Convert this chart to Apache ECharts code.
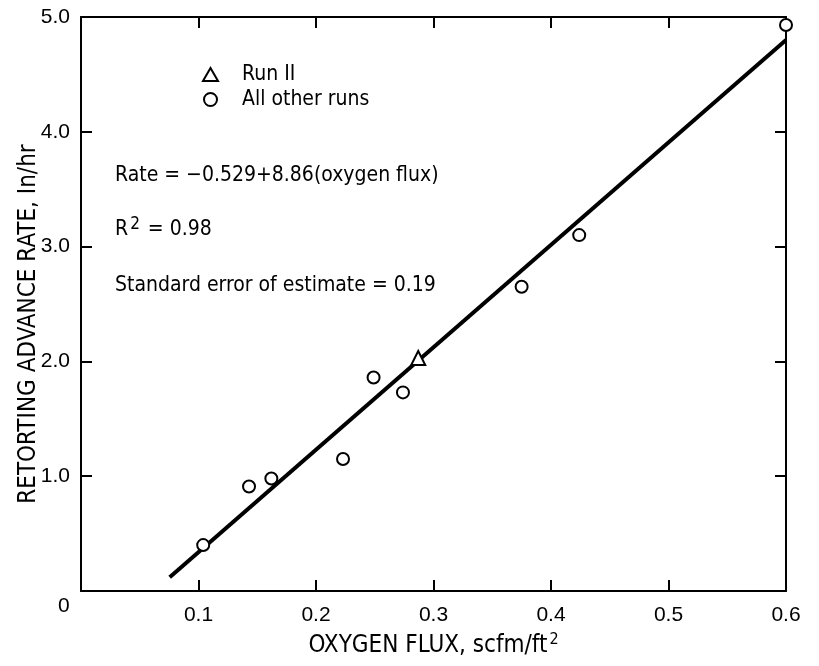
<!DOCTYPE html>
<html>
<head>
<meta charset="utf-8">
<script src="https://cdn.jsdelivr.net/npm/echarts@6/dist/echarts.min.js"></script>
<style>
  html, body { margin: 0; padding: 0; background: #fff; }
  #chart { width: 819px; height: 666px; }
</style>
</head>
<body>
<div id="chart"></div>
<script>
// values
var runElevenPoint = [[0.287, 2.03]];
var otherRunPoints = [
  [0.104, 0.40], [0.143, 0.91], [0.162, 0.98], [0.223, 1.15],
  [0.249, 1.86], [0.274, 1.73], [0.375, 2.65], [0.424, 3.10],
  [0.600, 4.93]
];
// ends of the drawn fit line
var fitLine = [[0.0755, 0.12], [0.6, 4.80]];
var xTicks = [0.1, 0.2, 0.3, 0.4, 0.5, 0.6];
var yTicks = ['1.0', '2.0', '3.0', '4.0', '5.0'];

var FONT = 'Liberation Sans';
var NARROW = "'Liberation Sans Narrow', 'DejaVu Sans Condensed', sans-serif";

var chart = echarts.init(document.getElementById('chart'));

var tickStyle = {show: true, inside: true, length: 11, lineStyle: {color: '#000', width: 2}};
var lineStyle = {show: true, onZero: false, lineStyle: {color: '#000', width: 2}};

chart.setOption({
  animation: false,
  backgroundColor: '#fff',
  grid: {left: 81, right: 33, top: 17, bottom: 75, outerBoundsMode: 'none', containLabel: false},
  legend: {
    orient: 'vertical',
    left: 197,
    top: 59,
    itemGap: 4,
    itemWidth: 15,
    itemHeight: 13,
    textStyle: {fontFamily: NARROW, fontSize: 21, color: '#000', padding: [0, 0, 0, 19]},
    data: ['Run II', 'All other runs']
  },
  xAxis: [{
    type: 'value',
    min: 0, max: 0.6, interval: 0.1,
    name: 'OXYGEN FLUX, scfm/ft{sup|2}',
    nameLocation: 'middle',
    nameGap: 41,
    nameTextStyle: {
      fontFamily: NARROW, fontSize: 24, color: '#000',
      rich: {sup: {fontFamily: NARROW, fontSize: 16, verticalAlign: 'top', padding: [0, 0, 12, 2], color: '#000'}}
    },
    axisLine: lineStyle,
    axisTick: tickStyle,
    splitLine: {show: false},
    axisLabel: {
      fontFamily: FONT, fontSize: 21, color: '#000', margin: 14,
      formatter: function(v) {
        for (var i = 0; i < xTicks.length; i++) {
          if (Math.abs(xTicks[i] - v) < 1e-6) return xTicks[i].toFixed(1);
        }
        return '';
      }
    }
  }, {
    type: 'value',
    position: 'top',
    min: 0, max: 0.6, interval: 0.1,
    axisLine: lineStyle,
    axisTick: tickStyle,
    axisLabel: {show: false},
    splitLine: {show: false}
  }],
  yAxis: [{
    type: 'value',
    min: 0, max: 5, interval: 1,
    name: 'RETORTING ADVANCE RATE, In/hr',
    nameLocation: 'middle',
    nameGap: 40,
    nameMoveOverlap: false,
    nameTextStyle: {fontFamily: NARROW, fontSize: 24, color: '#000', padding: [0, 40, 0, 0]},
    axisLine: lineStyle,
    axisTick: tickStyle,
    splitLine: {show: false},
    axisLabel: {
      fontFamily: FONT, fontSize: 21, color: '#000', margin: 11,
      formatter: function(v) {
        return v === 0 ? '' : yTicks[Math.round(v) - 1];
      }
    }
  }, {
    type: 'value',
    position: 'right',
    min: 0, max: 5, interval: 1,
    axisLine: lineStyle,
    axisTick: tickStyle,
    axisLabel: {show: false},
    splitLine: {show: false}
  }],
  graphic: [
    {type: 'text', left: 58, top: 596,
      style: {text: '0', font: '21px ' + FONT, fill: '#000'}},
    {type: 'text', left: 115, top: 165,
      style: {text: 'Rate = \u22120.529+8.86(oxygen flux)', font: '21px ' + NARROW, fill: '#000'}},
    {type: 'text', left: 115, top: 216,
      style: {
        text: 'R{sup|2} = 0.98',
        font: '21px ' + NARROW, fill: '#000',
        rich: {sup: {font: '17px ' + NARROW, verticalAlign: 'top', padding: [0, 2, 10, 2]}}
      }},
    {type: 'text', left: 115, top: 275,
      style: {text: 'Standard error of estimate = 0.19', font: '21px ' + NARROW, fill: '#000'}}
  ],
  series: [{
    name: 'fit',
    type: 'line',
    data: fitLine,
    symbol: 'none',
    lineStyle: {color: '#000', width: 4},
    silent: true,
    z: 2
  }, {
    name: 'Run II',
    type: 'scatter',
    data: runElevenPoint,
    symbol: 'triangle',
    symbolSize: 14,
    clip: false,
    itemStyle: {color: '#fff', borderColor: '#000', borderWidth: 2, opacity: 1},
    z: 3
  }, {
    name: 'All other runs',
    type: 'scatter',
    data: otherRunPoints,
    symbol: 'circle',
    symbolSize: 12,
    clip: false,
    itemStyle: {color: '#fff', borderColor: '#000', borderWidth: 2, opacity: 1},
    z: 3
  }]
});
</script>
</body>
</html>
